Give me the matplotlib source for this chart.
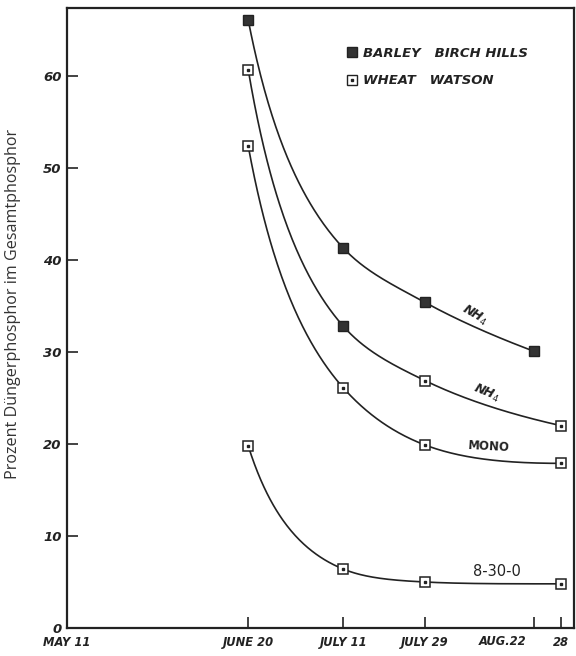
import numpy as np
import matplotlib
matplotlib.use("Agg")
from matplotlib import pyplot as plt
from matplotlib.lines import Line2D

# Tage seit dem 11. Mai
tick_days = [0, 40, 61, 79, 103, 109]
tick_labels = ["MAY 11", "JUNE 20", "JULY 11", "JULY 29", "AUG.22", "28"]

# Kurve 1: NH4 (Gerste)
nh4_a_x = [40, 61, 79, 103]
nh4_a_y = [66.1, 41.3, 35.4, 30.1]
nh4_a_filled = [True, True, True, True]

# Kurve 2: NH4
nh4_b_x = [40, 61, 79, 109]
nh4_b_y = [60.7, 32.8, 26.9, 22.0]
nh4_b_filled = [False, True, False, False]

# Kurve 3: MONO (Weizen)
mono_x = [40, 61, 79, 109]
mono_y = [52.4, 26.1, 19.9, 17.9]
mono_filled = [False, False, False, False]

# Kurve 4: 8-30-0 (Weizen)
n830_x = [40, 61, 79, 109]
n830_y = [19.8, 6.4, 5.0, 4.8]
n830_filled = [False, False, False, False]


def smooth(x, y, xs):
    # glatte Linie durch die Punkte: monotone Hermite-Kurve in log-Zeit
    x = np.log(np.asarray(x, float) - 25)
    u = np.log(np.asarray(xs, float) - 25)
    y = np.asarray(y, float)
    h = np.diff(x)
    d = np.diff(y) / h
    n = len(x)
    m = np.zeros(n)
    for k in range(1, n - 1):
        m[k] = (h[k] * d[k - 1] + h[k - 1] * d[k]) / (h[k - 1] + h[k])
    m[0] = ((2 * h[0] + h[1]) * d[0] - h[0] * d[1]) / (h[0] + h[1])
    if np.sign(m[0]) != np.sign(d[0]):
        m[0] = 0
    m[-1] = ((2 * h[-1] + h[-2]) * d[-1] - h[-1] * d[-2]) / (h[-1] + h[-2])
    if np.sign(m[-1]) != np.sign(d[-1]):
        m[-1] = 0
    for k in range(n - 1):
        a, b = m[k] / d[k], m[k + 1] / d[k]
        s = a * a + b * b
        if s > 9:
            t = 3 / np.sqrt(s)
            m[k], m[k + 1] = t * a * d[k], t * b * d[k]
    out = np.empty_like(u)
    for i, uv in enumerate(u):
        k = min(max(np.searchsorted(x, uv, side="right") - 1, 0), n - 2)
        t = (uv - x[k]) / h[k]
        h00 = 2 * t**3 - 3 * t**2 + 1
        h10 = t**3 - 2 * t**2 + t
        h01 = -2 * t**3 + 3 * t**2
        h11 = t**3 - t**2
        out[i] = h00 * y[k] + h10 * h[k] * m[k] + h01 * y[k + 1] + h11 * h[k] * m[k + 1]
    return out


ink = "#222222"
fig = plt.figure(figsize=(5.76, 6.56), dpi=100)
ax = fig.add_axes([0.1163, 0.0427, 0.881, 0.945])

for xs, ys, filled in [(nh4_a_x, nh4_a_y, nh4_a_filled),
                       (nh4_b_x, nh4_b_y, nh4_b_filled),
                       (mono_x, mono_y, mono_filled),
                       (n830_x, n830_y, n830_filled)]:
    xx = np.linspace(xs[0], xs[-1], 300)
    ax.plot(xx, smooth(xs, ys, xx), color=ink, lw=1.2, zorder=2)
    for xv, yv, f in zip(xs, ys, filled):
        if f:
            ax.plot(xv, yv, "s", ms=7, mfc="#333333", mec=ink, mew=1, zorder=3)
        else:
            ax.plot(xv, yv, "s", ms=7, mfc="white", mec=ink, mew=1.1, zorder=3)
            ax.plot(xv, yv, "s", ms=2, mfc=ink, mec=ink, zorder=4)

ax.set_xlim(0, 112)
ax.set_ylim(0, 67.4)

tfont = dict(fontsize=9.5, fontweight="bold", fontstyle="italic", color=ink)
ax.set_yticks([0, 10, 20, 30, 40, 50, 60])
ax.set_yticklabels(["0", "10", "20", "30", "40", "50", "60"], **tfont)
xfont = dict(fontsize=8.3, fontweight="bold", fontstyle="italic", color=ink)
ax.set_xticks(tick_days)
ax.set_xticklabels([t if t != "AUG.22" else "" for t in tick_labels], **xfont)
# AUG.22 steht links von seinem Strich
i_aug = tick_labels.index("AUG.22")
ax.annotate(tick_labels[i_aug], xy=(tick_days[i_aug], 0),
            xycoords=("data", "axes fraction"), xytext=(-31, -14),
            textcoords="offset pixels", ha="center", va="center", **xfont)
ax.tick_params(axis="both", direction="in", length=8, width=1.2, color=ink)
ax.tick_params(axis="y", pad=4)
ax.tick_params(axis="x", pad=6)
for s in ax.spines.values():
    s.set_linewidth(1.6)
    s.set_color(ink)

fig.text(13 / 576, 1 - 304 / 656, "Prozent Düngerphosphor im Gesamtphosphor",
         rotation=90, ha="center", va="center", fontsize=11.6,
         family="Open Sans", color="#333333")

lfont = dict(fontweight="bold", fontstyle="italic", color=ink)
ax.text(90, 34.0, "NH$_4$", rotation=-30, ha="center", va="center", fontsize=9, **lfont)
ax.text(92.5, 25.5, "NH$_4$", rotation=-22, ha="center", va="center", fontsize=9, **lfont)
ax.text(93.2, 19.7, "MONO", rotation=-3, ha="center", va="center", fontsize=8.5,
        fontweight="bold", color=ink)
ax.text(95, 6.1, "8-30-0", ha="center", va="center", fontsize=10.5, color=ink)

h_barley = Line2D([], [], ls="none", marker="s", ms=7, mfc="#333333", mec=ink)
h_wheat = (Line2D([], [], ls="none", marker="s", ms=7, mfc="white", mec=ink),
           Line2D([], [], ls="none", marker="s", ms=2, mfc=ink, mec=ink))
leg = ax.legend([h_barley, h_wheat], ["BARLEY   BIRCH HILLS", "WHEAT   WATSON"],
                loc="upper left", bbox_to_anchor=(335 / 576, 1 - 35 / 656),
                bbox_transform=fig.transFigure, frameon=False,
                handlelength=0.8, handletextpad=0.45, labelspacing=1.1,
                prop=dict(size=9.5, weight="bold", style="italic"))
for t in leg.get_texts():
    t.set_color(ink)

fig.savefig("out.png", dpi=100)
